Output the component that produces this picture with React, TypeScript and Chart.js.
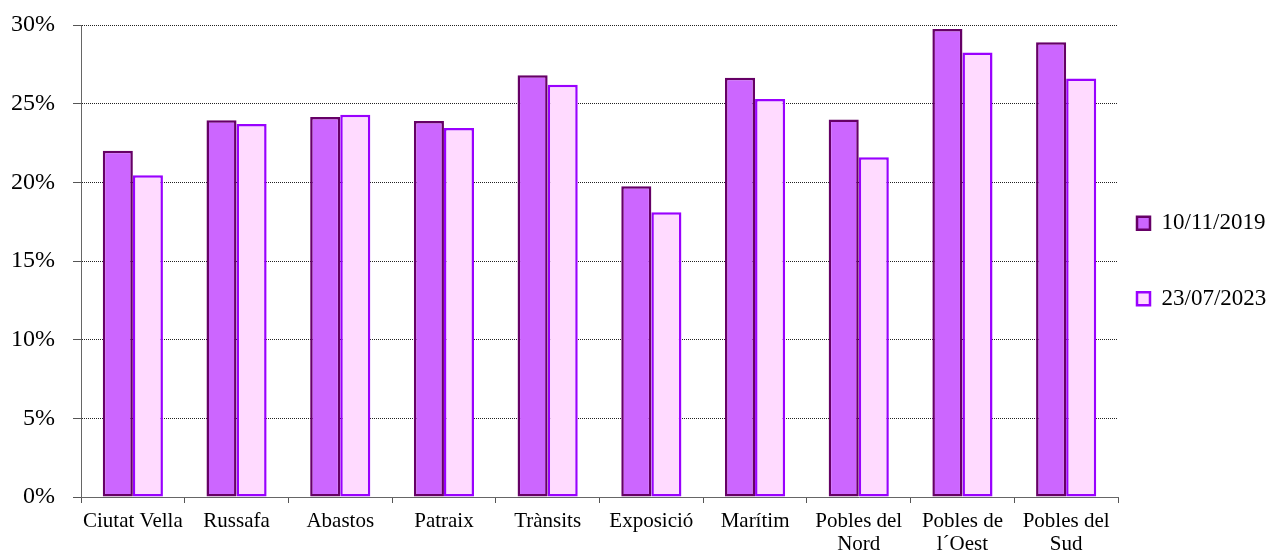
import React, { useEffect, useRef } from 'react';
import { Chart, registerables } from 'chart.js';

Chart.register(...registerables);

const categories: (string | string[])[] = [
  'Ciutat Vella',
  'Russafa',
  'Abastos',
  'Patraix',
  'Trànsits',
  'Exposició',
  'Marítim',
  ['Pobles del', 'Nord'],
  ['Pobles de', 'l´Oest'],
  ['Pobles del', 'Sud'],
];

const seriesLabels = ['10/11/2019', '23/07/2023'];
const values2019 = [22.0, 23.95, 24.15, 23.9, 26.8, 19.75, 26.65, 24.0, 29.75, 28.9];
const values2023 = [20.45, 23.7, 24.3, 23.45, 26.2, 18.1, 25.3, 21.6, 28.25, 26.6];

const yMin = 0;
const yMax = 30;
const yStep = 5;

const FONT = '"Liberation Serif", "Times New Roman", serif';

export default function App() {
  const canvasRef = useRef<HTMLCanvasElement | null>(null);

  useEffect(() => {
    document.body.style.margin = '0';
    const canvas = canvasRef.current;
    if (!canvas) return;
    const chart = new Chart(canvas, {
      type: 'bar',
      data: {
        labels: categories,
        datasets: [
          {
            label: seriesLabels[0],
            data: values2019,
            backgroundColor: '#CC66FF',
            borderColor: '#660066',
            borderWidth: 2.5,
            borderSkipped: false,
            barPercentage: 1,
            categoryPercentage: 0.58,
          },
          {
            label: seriesLabels[1],
            data: values2023,
            backgroundColor: '#FFDAFF',
            borderColor: '#9900FF',
            borderWidth: 2.5,
            borderSkipped: false,
            barPercentage: 1,
            categoryPercentage: 0.58,
          },
        ],
      },
      options: {
        responsive: false,
        animation: false,
        devicePixelRatio: 1,
        layout: { padding: { top: 25, left: 0, right: 0, bottom: 0 } },
        plugins: {
          tooltip: { enabled: false },
          title: { display: false },
          legend: {
            position: 'right',
            fullSize: false,
            maxWidth: 150,
            labels: {
              color: '#000',
              font: { family: FONT, size: 23, lineHeight: 0.63 },
              boxWidth: 13,
              boxHeight: 13,
              padding: 19,
              generateLabels: (c: any) => {
                const items = Chart.defaults.plugins.legend.labels.generateLabels(c);
                const spacer: any = {
                  text: [''],
                  fillStyle: 'rgba(0,0,0,0)',
                  strokeStyle: 'rgba(0,0,0,0)',
                  lineWidth: 0,
                  hidden: false,
                  datasetIndex: -1,
                };
                return [items[0], spacer, items[1]];
              },
            },
            onClick: () => {},
          },
        },
        scales: {
          x: {
            offset: true,
            afterFit: (scale: any) => {
              scale.height = 59;
            },
            grid: {
              display: true,
              drawOnChartArea: false,
              drawTicks: true,
              tickLength: 6,
              tickColor: '#555',
              offset: true,
            },
            border: { display: true, color: '#666', width: 1 },
            ticks: {
              color: '#000',
              font: { family: FONT, size: 21, lineHeight: 1.1 },
              padding: 7,
              maxRotation: 0,
              autoSkip: false,
            },
          },
          y: {
            min: yMin,
            max: yMax,
            afterFit: (scale: any) => {
              scale.width = 81;
              scale.paddingTop = 0;
              scale.paddingBottom = 0;
            },
            grid: {
              color: '#222',
              lineWidth: 1,
              tickLength: 8,
              tickColor: '#555',
              tickBorderDash: [],
            },
            border: { display: true, color: '#666', width: 1, dash: [1, 1] },
            ticks: {
              stepSize: yStep,
              color: '#000',
              font: { family: FONT, size: 24 },
              padding: 18,
              callback: (v: any) => `${v}%`,
            },
          },
        },
      },
    } as any);
    return () => chart.destroy();
  }, []);

  return (
    <div style={{ position: 'absolute', left: 0, top: 0, width: 1268, height: 556 }}>
      <canvas ref={canvasRef} width={1268} height={556} style={{ width: 1268, height: 556 }} />
    </div>
  );
}
